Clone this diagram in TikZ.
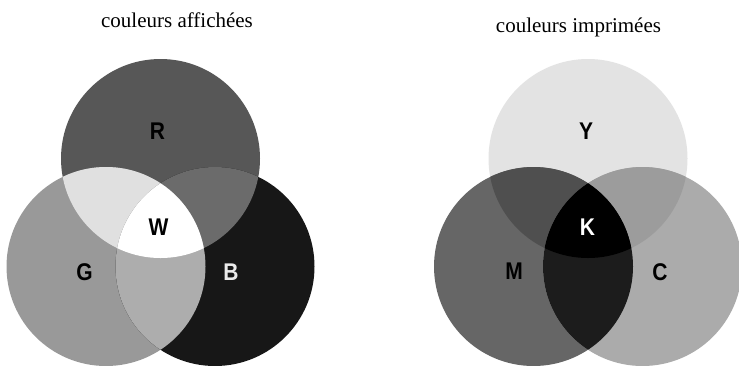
\documentclass[tikz,border=0pt]{standalone}
\usepackage{fontspec}
\usepackage{graphicx}
\setmainfont{Liberation Serif}
\newfontfamily\labfont{Liberation Sans}
\definecolor{cR}{gray}{0.34}
\definecolor{cG}{gray}{0.60}
\definecolor{cB}{gray}{0.09}
\definecolor{cRG}{gray}{0.88}
\definecolor{cRB}{gray}{0.42}
\definecolor{cGB}{gray}{0.68}
\definecolor{cY}{gray}{0.89}
\definecolor{cM}{gray}{0.40}
\definecolor{cC}{gray}{0.67}
\definecolor{cYM}{gray}{0.31}
\definecolor{cYC}{gray}{0.61}
\definecolor{cMC}{gray}{0.11}
\newcommand{\tallletter}[1]{\scalebox{1}[1.15]{#1}}
\tikzset{
  titletext/.style={anchor=base,inner sep=0pt,font=\fontsize{21}{25}\selectfont},
  lettertext/.style={inner sep=0pt,font=\labfont\bfseries\fontsize{21}{25}\selectfont},
}
\begin{document}
\begin{tikzpicture}[x=1pt,y=-1pt]
\useasboundingbox (0,0) rectangle (739,365);
\clip (0,0) rectangle (739,365);
\fill[white] (0,0) rectangle (739,365);
\def\rr{99.5pt}
% left: additive
\coordinate (Rc) at (160.5,158.5);
\coordinate (Gc) at (106,266.5);
\coordinate (Bc) at (215,266.5);
\fill[cR] (Rc) circle[radius=\rr];
\fill[cG] (Gc) circle[radius=\rr];
\fill[cB] (Bc) circle[radius=\rr];
\begin{scope}\clip (Rc) circle[radius=\rr]; \fill[cRG] (Gc) circle[radius=\rr];\end{scope}
\begin{scope}\clip (Rc) circle[radius=\rr]; \fill[cRB] (Bc) circle[radius=\rr];\end{scope}
\begin{scope}\clip (Gc) circle[radius=\rr]; \fill[cGB] (Bc) circle[radius=\rr];\end{scope}
\begin{scope}\clip (Rc) circle[radius=\rr]; \clip (Gc) circle[radius=\rr]; \fill[white] (Bc) circle[radius=\rr];\end{scope}
% right: subtractive
\coordinate (Yc) at (588,158.5);
\coordinate (Mc) at (533.5,266.5);
\coordinate (Cc) at (642.5,266.5);
\fill[cY] (Yc) circle[radius=\rr];
\fill[cM] (Mc) circle[radius=\rr];
\fill[cC] (Cc) circle[radius=\rr];
\begin{scope}\clip (Yc) circle[radius=\rr]; \fill[cYM] (Mc) circle[radius=\rr];\end{scope}
\begin{scope}\clip (Yc) circle[radius=\rr]; \fill[cYC] (Cc) circle[radius=\rr];\end{scope}
\begin{scope}\clip (Mc) circle[radius=\rr]; \fill[cMC] (Cc) circle[radius=\rr];\end{scope}
\begin{scope}\clip (Yc) circle[radius=\rr]; \clip (Mc) circle[radius=\rr]; \fill[black] (Cc) circle[radius=\rr];\end{scope}
% titles
\node[titletext] (t1) at (177,27) {couleurs affichées};
\node[titletext] (t2) at (578.5,32) {couleurs imprimées};
% letters
\node[lettertext] (lR) at (157.5,131.5) {\tallletter{R}};
\node[lettertext] (lW) at (158.5,227.5) {\tallletter{W}};
\node[lettertext] (lG) at (84.5,272.5) {\tallletter{G}};
\node[lettertext,text=white!92!black] (lB) at (231,272) {\tallletter{B}};
\node[lettertext] (lY) at (586,131) {\tallletter{Y}};
\node[lettertext,text=white] (lK) at (587.5,227.5) {\tallletter{K}};
\node[lettertext] (lM) at (514,271.5) {\tallletter{M}};
\node[lettertext] (lC) at (660,272) {\tallletter{C}};
\end{tikzpicture}
\end{document}
